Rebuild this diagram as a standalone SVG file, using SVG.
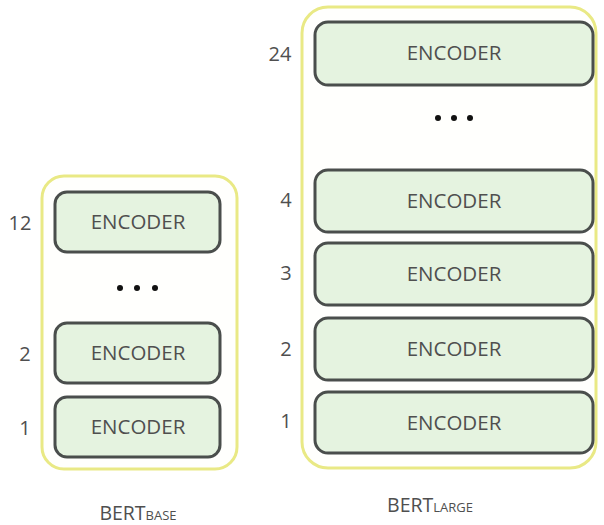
<svg xmlns="http://www.w3.org/2000/svg" width="604" height="525" viewBox="0 0 604 525">
<style>
.frame{fill:#fffffd;stroke:#e9e985;stroke-width:3}
.enc{fill:#e5f3e0;stroke:#4a4e4c;stroke-width:3}
.t{font-family:"Open Sans","DejaVu Sans",sans-serif;fill:#4f4f4f;font-size:20.5px;font-weight:500;text-anchor:middle}
.n{font-family:"Open Sans","DejaVu Sans",sans-serif;fill:#4f4f4f;font-size:20px;font-weight:500;text-anchor:middle}
.dot{fill:#111}
</style>
<rect width="604" height="525" fill="#fff"/>
<g id="bert-base">
<rect class="frame" x="42" y="176" width="195" height="293" rx="22"/>
</g>
<g id="bert-large">
<rect class="frame" x="302" y="7" width="294" height="461" rx="26"/>
</g>
<g id="base-enc12"><rect class="enc" x="55" y="192" width="165" height="60" rx="12"/><text class="t" x="138" y="229">ENCODER</text><text class="n" x="20" y="230">12</text></g>
<g id="base-dots"><circle class="dot" cx="120" cy="288" r="3"/><circle class="dot" cx="137" cy="288" r="3"/><circle class="dot" cx="155" cy="288" r="3"/></g>
<g id="base-enc2"><rect class="enc" x="55" y="323" width="165" height="60" rx="12"/><text class="t" x="138" y="360">ENCODER</text><text class="n" x="25" y="361">2</text></g>
<g id="base-enc1"><rect class="enc" x="55" y="397" width="165" height="60" rx="12"/><text class="t" x="138" y="434">ENCODER</text><text class="n" x="25" y="435">1</text></g>
<g id="large-enc24"><rect class="enc" x="315" y="22" width="278" height="63" rx="13"/><text class="t" x="454" y="60">ENCODER</text><text class="n" x="280" y="61">24</text></g>
<g id="large-dots"><circle class="dot" cx="438" cy="118" r="3"/><circle class="dot" cx="454" cy="118" r="3"/><circle class="dot" cx="470" cy="118" r="3"/></g>
<g id="large-enc4"><rect class="enc" x="315" y="170" width="278" height="62" rx="13"/><text class="t" x="454" y="208">ENCODER</text><text class="n" x="286" y="207">4</text></g>
<g id="large-enc3"><rect class="enc" x="315" y="243" width="278" height="62" rx="13"/><text class="t" x="454" y="281">ENCODER</text><text class="n" x="286" y="280">3</text></g>
<g id="large-enc2"><rect class="enc" x="315" y="318" width="278" height="62" rx="13"/><text class="t" x="454" y="356">ENCODER</text><text class="n" x="286" y="356">2</text></g>
<g id="large-enc1"><rect class="enc" x="315" y="392" width="278" height="61" rx="13"/><text class="t" x="454" y="430">ENCODER</text><text class="n" x="286" y="428">1</text></g>
<g id="connectors"></g>
<text class="t" x="138" y="520" style="font-size:19.5px">BERT<tspan style="font-size:13px">BASE</tspan></text>
<text class="t" x="430" y="512" style="font-size:19.5px">BERT<tspan style="font-size:13px">LARGE</tspan></text>
</svg>
